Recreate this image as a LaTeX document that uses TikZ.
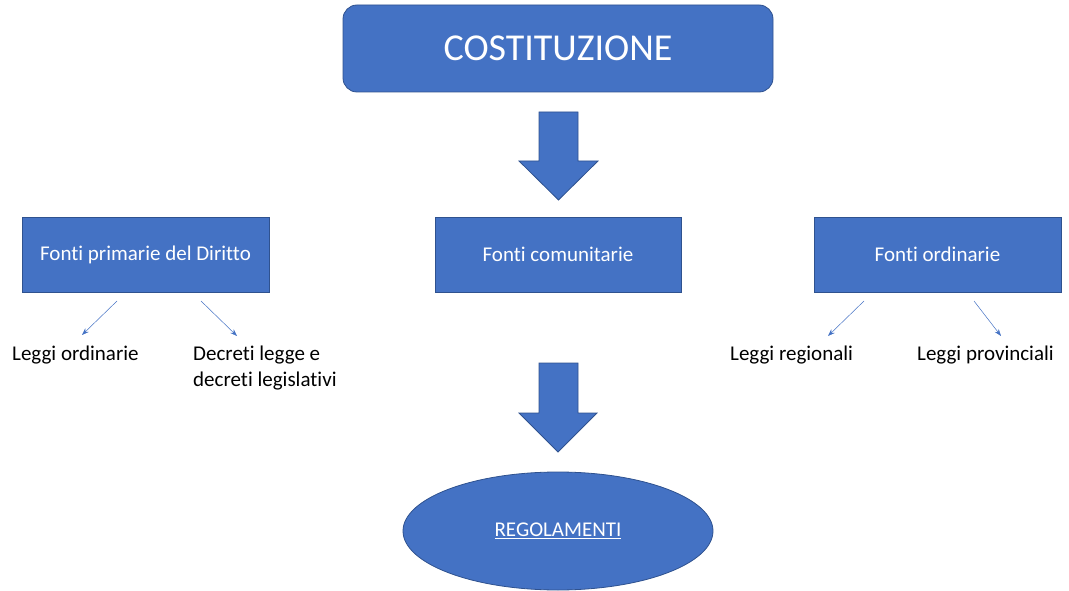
\documentclass[tikz,border=0pt]{standalone}
\usepackage{fontspec}
\setmainfont{Carlito}[Ligatures=NoCommon]
\usetikzlibrary{arrows.meta,shapes.geometric}
\definecolor{offblue}{HTML}{4472C4}
\definecolor{offedge}{HTML}{2F528F}
\tikzset{
  bluebox/.style={draw=offedge, fill=offblue, line width=0.8pt, text=white, inner sep=0pt, font=\fontsize{21}{26}\selectfont},
  plain/.style={inner sep=0pt, text=black, font=\fontsize{21}{26.5}\selectfont, anchor=base west},
  blockarrow/.style={draw=offedge, fill=offblue, line width=0.8pt},
  thinarrow/.style={draw=offblue, line width=0.5pt, -{Stealth[length=7pt,width=5pt]}}
}
\begin{document}
\begin{tikzpicture}[x=1pt,y=-1pt]
\useasboundingbox (0,0) rectangle (1069,591);
% boxes
\node[bluebox, rounded corners=14pt, minimum width=430pt, minimum height=87pt, font=\fontsize{38}{44}\selectfont] (cost) at (558,48.5) {COSTITUZIONE};
\node[bluebox, minimum width=247pt, minimum height=75pt] (prim) at (145.5,254.5) {Fonti primarie del Diritto};
\node[bluebox, minimum width=246pt, minimum height=75pt] (com) at (558,254.5) {Fonti comunitarie};
\node[bluebox, minimum width=247pt, minimum height=75pt] (ord) at (937.5,254.5) {Fonti ordinarie};
\node[bluebox, ellipse, minimum width=310pt, minimum height=118pt] (reg) at (558,531) {\underline{REGOLAMENTI}};
% texts
\node[plain] (lo) at (12,360) {Leggi ordinarie};
\node[plain] (dl) at (193,360) {\begin{tabular}[t]{@{}l@{}}Decreti legge e\\decreti legislativi\end{tabular}};
\node[plain] (lr) at (730,360) {Leggi regionali};
\node[plain] (lp) at (917,360) {Leggi provinciali};
% block arrows
\draw[blockarrow] (539,112) -- (578,112) -- (578,161) -- (598,161) -- (558.5,200) -- (519,161) -- (539,161) -- cycle;
\draw[blockarrow] (539,363) -- (578,363) -- (578,413) -- (597,413) -- (558,452) -- (519,413) -- (539,413) -- cycle;
% thin arrows
\coordinate (a1s) at (117,301); \coordinate (a1e) at (82,335);
\coordinate (a2s) at (201,301); \coordinate (a2e) at (237,336);
\coordinate (a3s) at (864,301); \coordinate (a3e) at (828,336);
\coordinate (a4s) at (974,301); \coordinate (a4e) at (1001,336);
\draw[thinarrow] (a1s) -- (a1e);
\draw[thinarrow] (a2s) -- (a2e);
\draw[thinarrow] (a3s) -- (a3e);
\draw[thinarrow] (a4s) -- (a4e);
\end{tikzpicture}
\end{document}
